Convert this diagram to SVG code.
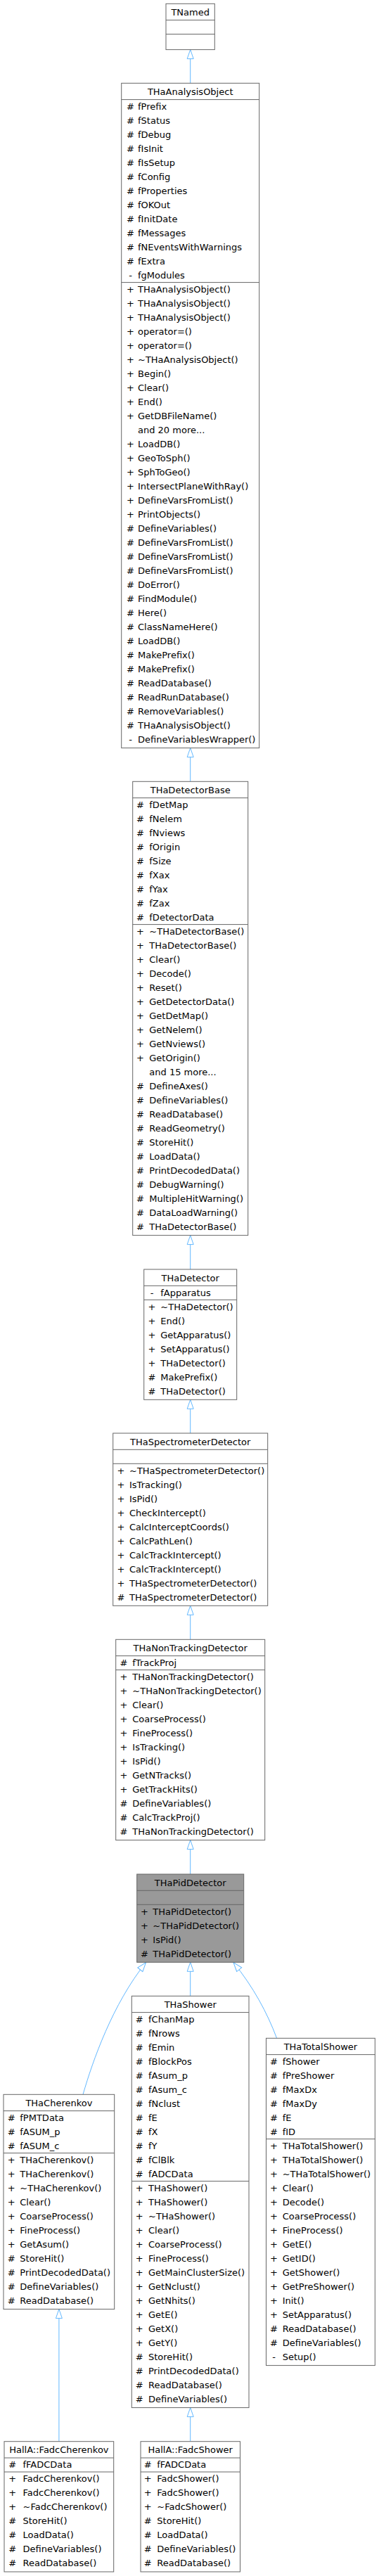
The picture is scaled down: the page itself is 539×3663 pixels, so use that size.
<svg xmlns="http://www.w3.org/2000/svg" width="539" height="3663" viewBox="0 0 539 3663">
<style>
.b{fill:#fff;stroke:#666;stroke-width:1}
.g{fill:#999;stroke:#666;stroke-width:1}
.s{stroke:#666;stroke-width:1;fill:none}
text{font-family:"DejaVu Sans","Liberation Sans",sans-serif;font-size:13px;fill:#000}
.t,.c{text-anchor:middle}
.e{fill:none;stroke:#63b8ff;stroke-width:1;marker-end:url(#a)}
</style>
<defs>
<marker id="a" viewBox="0 0 15 11" refX="14" refY="5.5" markerWidth="15" markerHeight="11" markerUnits="userSpaceOnUse" orient="auto">
<path d="M1,1 L14,5.5 L1,10 Z" fill="#fff" stroke="#63b8ff" stroke-width="1"/>
</marker>
</defs>
<rect width="539" height="3663" fill="#fff"/>
<g id="connectors">
<path class="e" d="M270.7,118.3 V70.6"/>
<path class="e" d="M270.7,1111.3 V1063.6"/>
<path class="e" d="M270.7,1805 V1756.6"/>
<path class="e" d="M270.7,2038 V1990.3"/>
<path class="e" d="M270.7,2331.3 V2283.3"/>
<path class="e" d="M270.7,2665 V2616.6"/>
<path class="e" d="M118,2978.3 C132,2930 160,2850 207.5,2790.6"/>
<path class="e" d="M270.7,2838.3 V2790.3"/>
<path class="e" d="M393.6,2898.3 C380,2862 360,2825 332,2790.6"/>
<path class="e" d="M83.9,3471.7 V3283.6"/>
<path class="e" d="M270.7,3471.7 V3423.6"/>
</g>
<g id="TNamed">
<rect class="b" x="236" y="5.3" width="69.3" height="65.3"/>
<path class="s" d="M236,28.6 H305.3 M236,48.6 H305.3"/>
<text class="t" x="270.7" y="22">TNamed</text>
</g>
<g id="THaAnalysisObject">
<rect class="b" x="172.7" y="118.3" width="196" height="945.3"/>
<path class="s" d="M172.7,141.6 H368.7 M172.7,401.6 H368.7"/>
<text class="t" x="270.7" y="135">THaAnalysisObject</text>
<text class="c"><tspan x="185.5" y="155.8">#</tspan><tspan x="185.5" y="175.8">#</tspan><tspan x="185.5" y="195.8">#</tspan><tspan x="185.5" y="215.8">#</tspan><tspan x="185.5" y="235.8">#</tspan><tspan x="185.5" y="255.8">#</tspan><tspan x="185.5" y="275.8">#</tspan><tspan x="185.5" y="295.8">#</tspan><tspan x="185.5" y="315.8">#</tspan><tspan x="185.5" y="335.8">#</tspan><tspan x="185.5" y="355.8">#</tspan><tspan x="185.5" y="375.8">#</tspan><tspan x="185.5" y="395.8">-</tspan></text>
<text><tspan x="196" y="155.8">fPrefix</tspan><tspan x="196" y="175.8">fStatus</tspan><tspan x="196" y="195.8">fDebug</tspan><tspan x="196" y="215.8">fIsInit</tspan><tspan x="196" y="235.8">fIsSetup</tspan><tspan x="196" y="255.8">fConfig</tspan><tspan x="196" y="275.8">fProperties</tspan><tspan x="196" y="295.8">fOKOut</tspan><tspan x="196" y="315.8">fInitDate</tspan><tspan x="196" y="335.8">fMessages</tspan><tspan x="196" y="355.8">fNEventsWithWarnings</tspan><tspan x="196" y="375.8">fExtra</tspan><tspan x="196" y="395.8">fgModules</tspan></text>
<text class="c"><tspan x="185.5" y="415.8">+</tspan><tspan x="185.5" y="435.8">+</tspan><tspan x="185.5" y="455.8">+</tspan><tspan x="185.5" y="475.8">+</tspan><tspan x="185.5" y="495.8">+</tspan><tspan x="185.5" y="515.8">+</tspan><tspan x="185.5" y="535.8">+</tspan><tspan x="185.5" y="555.8">+</tspan><tspan x="185.5" y="575.8">+</tspan><tspan x="185.5" y="595.8">+</tspan><tspan x="185.5" y="635.8">+</tspan><tspan x="185.5" y="655.8">+</tspan><tspan x="185.5" y="675.8">+</tspan><tspan x="185.5" y="695.8">+</tspan><tspan x="185.5" y="715.8">+</tspan><tspan x="185.5" y="735.8">+</tspan><tspan x="185.5" y="755.8">#</tspan><tspan x="185.5" y="775.8">#</tspan><tspan x="185.5" y="795.8">#</tspan><tspan x="185.5" y="815.8">#</tspan><tspan x="185.5" y="835.8">#</tspan><tspan x="185.5" y="855.8">#</tspan><tspan x="185.5" y="875.8">#</tspan><tspan x="185.5" y="895.8">#</tspan><tspan x="185.5" y="915.8">#</tspan><tspan x="185.5" y="935.8">#</tspan><tspan x="185.5" y="955.8">#</tspan><tspan x="185.5" y="975.8">#</tspan><tspan x="185.5" y="995.8">#</tspan><tspan x="185.5" y="1015.8">#</tspan><tspan x="185.5" y="1035.8">#</tspan><tspan x="185.5" y="1055.8">-</tspan></text>
<text><tspan x="196" y="415.8">THaAnalysisObject()</tspan><tspan x="196" y="435.8">THaAnalysisObject()</tspan><tspan x="196" y="455.8">THaAnalysisObject()</tspan><tspan x="196" y="475.8">operator=()</tspan><tspan x="196" y="495.8">operator=()</tspan><tspan x="196" y="515.8">~THaAnalysisObject()</tspan><tspan x="196" y="535.8">Begin()</tspan><tspan x="196" y="555.8">Clear()</tspan><tspan x="196" y="575.8">End()</tspan><tspan x="196" y="595.8">GetDBFileName()</tspan><tspan x="196" y="615.8">and 20 more...</tspan><tspan x="196" y="635.8">LoadDB()</tspan><tspan x="196" y="655.8">GeoToSph()</tspan><tspan x="196" y="675.8">SphToGeo()</tspan><tspan x="196" y="695.8">IntersectPlaneWithRay()</tspan><tspan x="196" y="715.8">DefineVarsFromList()</tspan><tspan x="196" y="735.8">PrintObjects()</tspan><tspan x="196" y="755.8">DefineVariables()</tspan><tspan x="196" y="775.8">DefineVarsFromList()</tspan><tspan x="196" y="795.8">DefineVarsFromList()</tspan><tspan x="196" y="815.8">DefineVarsFromList()</tspan><tspan x="196" y="835.8">DoError()</tspan><tspan x="196" y="855.8">FindModule()</tspan><tspan x="196" y="875.8">Here()</tspan><tspan x="196" y="895.8">ClassNameHere()</tspan><tspan x="196" y="915.8">LoadDB()</tspan><tspan x="196" y="935.8">MakePrefix()</tspan><tspan x="196" y="955.8">MakePrefix()</tspan><tspan x="196" y="975.8">ReadDatabase()</tspan><tspan x="196" y="995.8">ReadRunDatabase()</tspan><tspan x="196" y="1015.8">RemoveVariables()</tspan><tspan x="196" y="1035.8">THaAnalysisObject()</tspan><tspan x="196" y="1055.8">DefineVariablesWrapper()</tspan></text>
</g>
<g id="THaDetectorBase">
<rect class="b" x="188.7" y="1111.3" width="164" height="645.3"/>
<path class="s" d="M188.7,1134.6 H352.7 M188.7,1314.6 H352.7"/>
<text class="t" x="270.7" y="1128">THaDetectorBase</text>
<text class="c"><tspan x="199.5" y="1148.8">#</tspan><tspan x="199.5" y="1168.8">#</tspan><tspan x="199.5" y="1188.8">#</tspan><tspan x="199.5" y="1208.8">#</tspan><tspan x="199.5" y="1228.8">#</tspan><tspan x="199.5" y="1248.8">#</tspan><tspan x="199.5" y="1268.8">#</tspan><tspan x="199.5" y="1288.8">#</tspan><tspan x="199.5" y="1308.8">#</tspan></text>
<text><tspan x="212.3" y="1148.8">fDetMap</tspan><tspan x="212.3" y="1168.8">fNelem</tspan><tspan x="212.3" y="1188.8">fNviews</tspan><tspan x="212.3" y="1208.8">fOrigin</tspan><tspan x="212.3" y="1228.8">fSize</tspan><tspan x="212.3" y="1248.8">fXax</tspan><tspan x="212.3" y="1268.8">fYax</tspan><tspan x="212.3" y="1288.8">fZax</tspan><tspan x="212.3" y="1308.8">fDetectorData</tspan></text>
<text class="c"><tspan x="199.5" y="1328.8">+</tspan><tspan x="199.5" y="1348.8">+</tspan><tspan x="199.5" y="1368.8">+</tspan><tspan x="199.5" y="1388.8">+</tspan><tspan x="199.5" y="1408.8">+</tspan><tspan x="199.5" y="1428.8">+</tspan><tspan x="199.5" y="1448.8">+</tspan><tspan x="199.5" y="1468.8">+</tspan><tspan x="199.5" y="1488.8">+</tspan><tspan x="199.5" y="1508.8">+</tspan><tspan x="199.5" y="1548.8">#</tspan><tspan x="199.5" y="1568.8">#</tspan><tspan x="199.5" y="1588.8">#</tspan><tspan x="199.5" y="1608.8">#</tspan><tspan x="199.5" y="1628.8">#</tspan><tspan x="199.5" y="1648.8">#</tspan><tspan x="199.5" y="1668.8">#</tspan><tspan x="199.5" y="1688.8">#</tspan><tspan x="199.5" y="1708.8">#</tspan><tspan x="199.5" y="1728.8">#</tspan><tspan x="199.5" y="1748.8">#</tspan></text>
<text><tspan x="212.3" y="1328.8">~THaDetectorBase()</tspan><tspan x="212.3" y="1348.8">THaDetectorBase()</tspan><tspan x="212.3" y="1368.8">Clear()</tspan><tspan x="212.3" y="1388.8">Decode()</tspan><tspan x="212.3" y="1408.8">Reset()</tspan><tspan x="212.3" y="1428.8">GetDetectorData()</tspan><tspan x="212.3" y="1448.8">GetDetMap()</tspan><tspan x="212.3" y="1468.8">GetNelem()</tspan><tspan x="212.3" y="1488.8">GetNviews()</tspan><tspan x="212.3" y="1508.8">GetOrigin()</tspan><tspan x="212.3" y="1528.8">and 15 more...</tspan><tspan x="212.3" y="1548.8">DefineAxes()</tspan><tspan x="212.3" y="1568.8">DefineVariables()</tspan><tspan x="212.3" y="1588.8">ReadDatabase()</tspan><tspan x="212.3" y="1608.8">ReadGeometry()</tspan><tspan x="212.3" y="1628.8">StoreHit()</tspan><tspan x="212.3" y="1648.8">LoadData()</tspan><tspan x="212.3" y="1668.8">PrintDecodedData()</tspan><tspan x="212.3" y="1688.8">DebugWarning()</tspan><tspan x="212.3" y="1708.8">MultipleHitWarning()</tspan><tspan x="212.3" y="1728.8">DataLoadWarning()</tspan><tspan x="212.3" y="1748.8">THaDetectorBase()</tspan></text>
</g>
<g id="THaDetector">
<rect class="b" x="204.7" y="1805" width="132" height="185.3"/>
<path class="s" d="M204.7,1828.3 H336.7 M204.7,1848.3 H336.7"/>
<text class="t" x="270.7" y="1821.7">THaDetector</text>
<text class="c"><tspan x="216" y="1842.5">-</tspan><tspan x="216" y="1862.5">+</tspan><tspan x="216" y="1882.5">+</tspan><tspan x="216" y="1902.5">+</tspan><tspan x="216" y="1922.5">+</tspan><tspan x="216" y="1942.5">+</tspan><tspan x="216" y="1962.5">#</tspan><tspan x="216" y="1982.5">#</tspan></text>
<text><tspan x="228.3" y="1842.5">fApparatus</tspan><tspan x="228.3" y="1862.5">~THaDetector()</tspan><tspan x="228.3" y="1882.5">End()</tspan><tspan x="228.3" y="1902.5">GetApparatus()</tspan><tspan x="228.3" y="1922.5">SetApparatus()</tspan><tspan x="228.3" y="1942.5">THaDetector()</tspan><tspan x="228.3" y="1962.5">MakePrefix()</tspan><tspan x="228.3" y="1982.5">THaDetector()</tspan></text>
</g>
<g id="THaSpectrometerDetector">
<rect class="b" x="160.7" y="2038" width="220" height="245.3"/>
<path class="s" d="M160.7,2061.3 H380.7 M160.7,2081.3 H380.7"/>
<text class="t" x="270.7" y="2054.7">THaSpectrometerDetector</text>
<text class="c"><tspan x="172" y="2095.5">+</tspan><tspan x="172" y="2115.5">+</tspan><tspan x="172" y="2135.5">+</tspan><tspan x="172" y="2155.5">+</tspan><tspan x="172" y="2175.5">+</tspan><tspan x="172" y="2195.5">+</tspan><tspan x="172" y="2215.5">+</tspan><tspan x="172" y="2235.5">+</tspan><tspan x="172" y="2255.5">+</tspan><tspan x="172" y="2275.5">#</tspan></text>
<text><tspan x="184" y="2095.5">~THaSpectrometerDetector()</tspan><tspan x="184" y="2115.5">IsTracking()</tspan><tspan x="184" y="2135.5">IsPid()</tspan><tspan x="184" y="2155.5">CheckIntercept()</tspan><tspan x="184" y="2175.5">CalcInterceptCoords()</tspan><tspan x="184" y="2195.5">CalcPathLen()</tspan><tspan x="184" y="2215.5">CalcTrackIntercept()</tspan><tspan x="184" y="2235.5">CalcTrackIntercept()</tspan><tspan x="184" y="2255.5">THaSpectrometerDetector()</tspan><tspan x="184" y="2275.5">THaSpectrometerDetector()</tspan></text>
</g>
<g id="THaNonTrackingDetector">
<rect class="b" x="164.7" y="2331.3" width="212" height="285.3"/>
<path class="s" d="M164.7,2354.6 H376.7 M164.7,2374.6 H376.7"/>
<text class="t" x="270.7" y="2348">THaNonTrackingDetector</text>
<text class="c"><tspan x="176" y="2368.8">#</tspan><tspan x="176" y="2388.8">+</tspan><tspan x="176" y="2408.8">+</tspan><tspan x="176" y="2428.8">+</tspan><tspan x="176" y="2448.8">+</tspan><tspan x="176" y="2468.8">+</tspan><tspan x="176" y="2488.8">+</tspan><tspan x="176" y="2508.8">+</tspan><tspan x="176" y="2528.8">+</tspan><tspan x="176" y="2548.8">+</tspan><tspan x="176" y="2568.8">#</tspan><tspan x="176" y="2588.8">#</tspan><tspan x="176" y="2608.8">#</tspan></text>
<text><tspan x="188.3" y="2368.8">fTrackProj</tspan><tspan x="188.3" y="2388.8">THaNonTrackingDetector()</tspan><tspan x="188.3" y="2408.8">~THaNonTrackingDetector()</tspan><tspan x="188.3" y="2428.8">Clear()</tspan><tspan x="188.3" y="2448.8">CoarseProcess()</tspan><tspan x="188.3" y="2468.8">FineProcess()</tspan><tspan x="188.3" y="2488.8">IsTracking()</tspan><tspan x="188.3" y="2508.8">IsPid()</tspan><tspan x="188.3" y="2528.8">GetNTracks()</tspan><tspan x="188.3" y="2548.8">GetTrackHits()</tspan><tspan x="188.3" y="2568.8">DefineVariables()</tspan><tspan x="188.3" y="2588.8">CalcTrackProj()</tspan><tspan x="188.3" y="2608.8">THaNonTrackingDetector()</tspan></text>
</g>
<g id="THaPidDetector">
<rect class="g" x="194.7" y="2665" width="152" height="125.3"/>
<path class="s" d="M194.7,2688.3 H346.7 M194.7,2708.3 H346.7"/>
<text class="t" x="270.7" y="2681.7">THaPidDetector</text>
<text class="c"><tspan x="205.5" y="2722.5">+</tspan><tspan x="205.5" y="2742.5">+</tspan><tspan x="205.5" y="2762.5">+</tspan><tspan x="205.5" y="2782.5">#</tspan></text>
<text><tspan x="217.3" y="2722.5">THaPidDetector()</tspan><tspan x="217.3" y="2742.5">~THaPidDetector()</tspan><tspan x="217.3" y="2762.5">IsPid()</tspan><tspan x="217.3" y="2782.5">THaPidDetector()</tspan></text>
</g>
<g id="THaCherenkov">
<rect class="b" x="5" y="2978.3" width="157.7" height="305.3"/>
<path class="s" d="M5,3001.6 H162.7 M5,3061.6 H162.7"/>
<text class="t" x="83.9" y="2995">THaCherenkov</text>
<text class="c"><tspan x="16.2" y="3015.8">#</tspan><tspan x="16.2" y="3035.8">#</tspan><tspan x="16.2" y="3055.8">#</tspan><tspan x="16.2" y="3075.8">+</tspan><tspan x="16.2" y="3095.8">+</tspan><tspan x="16.2" y="3115.8">+</tspan><tspan x="16.2" y="3135.8">+</tspan><tspan x="16.2" y="3155.8">+</tspan><tspan x="16.2" y="3175.8">+</tspan><tspan x="16.2" y="3195.8">+</tspan><tspan x="16.2" y="3215.8">#</tspan><tspan x="16.2" y="3235.8">#</tspan><tspan x="16.2" y="3255.8">#</tspan><tspan x="16.2" y="3275.8">#</tspan></text>
<text><tspan x="28.3" y="3015.8">fPMTData</tspan><tspan x="28.3" y="3035.8">fASUM_p</tspan><tspan x="28.3" y="3055.8">fASUM_c</tspan><tspan x="28.3" y="3075.8">THaCherenkov()</tspan><tspan x="28.3" y="3095.8">THaCherenkov()</tspan><tspan x="28.3" y="3115.8">~THaCherenkov()</tspan><tspan x="28.3" y="3135.8">Clear()</tspan><tspan x="28.3" y="3155.8">CoarseProcess()</tspan><tspan x="28.3" y="3175.8">FineProcess()</tspan><tspan x="28.3" y="3195.8">GetAsum()</tspan><tspan x="28.3" y="3215.8">StoreHit()</tspan><tspan x="28.3" y="3235.8">PrintDecodedData()</tspan><tspan x="28.3" y="3255.8">DefineVariables()</tspan><tspan x="28.3" y="3275.8">ReadDatabase()</tspan></text>
</g>
<g id="THaShower">
<rect class="b" x="187.3" y="2838.3" width="166.7" height="585.3"/>
<path class="s" d="M187.3,2861.6 H354 M187.3,3101.6 H354"/>
<text class="t" x="270.7" y="2855">THaShower</text>
<text class="c"><tspan x="198.3" y="2875.8">#</tspan><tspan x="198.3" y="2895.8">#</tspan><tspan x="198.3" y="2915.8">#</tspan><tspan x="198.3" y="2935.8">#</tspan><tspan x="198.3" y="2955.8">#</tspan><tspan x="198.3" y="2975.8">#</tspan><tspan x="198.3" y="2995.8">#</tspan><tspan x="198.3" y="3015.8">#</tspan><tspan x="198.3" y="3035.8">#</tspan><tspan x="198.3" y="3055.8">#</tspan><tspan x="198.3" y="3075.8">#</tspan><tspan x="198.3" y="3095.8">#</tspan><tspan x="198.3" y="3115.8">+</tspan><tspan x="198.3" y="3135.8">+</tspan><tspan x="198.3" y="3155.8">+</tspan><tspan x="198.3" y="3175.8">+</tspan><tspan x="198.3" y="3195.8">+</tspan><tspan x="198.3" y="3215.8">+</tspan><tspan x="198.3" y="3235.8">+</tspan><tspan x="198.3" y="3255.8">+</tspan><tspan x="198.3" y="3275.8">+</tspan><tspan x="198.3" y="3295.8">+</tspan><tspan x="198.3" y="3315.8">+</tspan><tspan x="198.3" y="3335.8">+</tspan><tspan x="198.3" y="3355.8">#</tspan><tspan x="198.3" y="3375.8">#</tspan><tspan x="198.3" y="3395.8">#</tspan><tspan x="198.3" y="3415.8">#</tspan></text>
<text><tspan x="211" y="2875.8">fChanMap</tspan><tspan x="211" y="2895.8">fNrows</tspan><tspan x="211" y="2915.8">fEmin</tspan><tspan x="211" y="2935.8">fBlockPos</tspan><tspan x="211" y="2955.8">fAsum_p</tspan><tspan x="211" y="2975.8">fAsum_c</tspan><tspan x="211" y="2995.8">fNclust</tspan><tspan x="211" y="3015.8">fE</tspan><tspan x="211" y="3035.8">fX</tspan><tspan x="211" y="3055.8">fY</tspan><tspan x="211" y="3075.8">fClBlk</tspan><tspan x="211" y="3095.8">fADCData</tspan><tspan x="211" y="3115.8">THaShower()</tspan><tspan x="211" y="3135.8">THaShower()</tspan><tspan x="211" y="3155.8">~THaShower()</tspan><tspan x="211" y="3175.8">Clear()</tspan><tspan x="211" y="3195.8">CoarseProcess()</tspan><tspan x="211" y="3215.8">FineProcess()</tspan><tspan x="211" y="3235.8">GetMainClusterSize()</tspan><tspan x="211" y="3255.8">GetNclust()</tspan><tspan x="211" y="3275.8">GetNhits()</tspan><tspan x="211" y="3295.8">GetE()</tspan><tspan x="211" y="3315.8">GetX()</tspan><tspan x="211" y="3335.8">GetY()</tspan><tspan x="211" y="3355.8">StoreHit()</tspan><tspan x="211" y="3375.8">PrintDecodedData()</tspan><tspan x="211" y="3395.8">ReadDatabase()</tspan><tspan x="211" y="3415.8">DefineVariables()</tspan></text>
</g>
<g id="THaTotalShower">
<rect class="b" x="378.5" y="2898.3" width="154.8" height="465.3"/>
<path class="s" d="M378.5,2921.6 H533.3 M378.5,3041.6 H533.3"/>
<text class="t" x="455.9" y="2915">THaTotalShower</text>
<text class="c"><tspan x="389.5" y="2935.8">#</tspan><tspan x="389.5" y="2955.8">#</tspan><tspan x="389.5" y="2975.8">#</tspan><tspan x="389.5" y="2995.8">#</tspan><tspan x="389.5" y="3015.8">#</tspan><tspan x="389.5" y="3035.8">#</tspan><tspan x="389.5" y="3055.8">+</tspan><tspan x="389.5" y="3075.8">+</tspan><tspan x="389.5" y="3095.8">+</tspan><tspan x="389.5" y="3115.8">+</tspan><tspan x="389.5" y="3135.8">+</tspan><tspan x="389.5" y="3155.8">+</tspan><tspan x="389.5" y="3175.8">+</tspan><tspan x="389.5" y="3195.8">+</tspan><tspan x="389.5" y="3215.8">+</tspan><tspan x="389.5" y="3235.8">+</tspan><tspan x="389.5" y="3255.8">+</tspan><tspan x="389.5" y="3275.8">+</tspan><tspan x="389.5" y="3295.8">+</tspan><tspan x="389.5" y="3315.8">#</tspan><tspan x="389.5" y="3335.8">#</tspan><tspan x="389.5" y="3355.8">-</tspan></text>
<text><tspan x="401.7" y="2935.8">fShower</tspan><tspan x="401.7" y="2955.8">fPreShower</tspan><tspan x="401.7" y="2975.8">fMaxDx</tspan><tspan x="401.7" y="2995.8">fMaxDy</tspan><tspan x="401.7" y="3015.8">fE</tspan><tspan x="401.7" y="3035.8">fID</tspan><tspan x="401.7" y="3055.8">THaTotalShower()</tspan><tspan x="401.7" y="3075.8">THaTotalShower()</tspan><tspan x="401.7" y="3095.8">~THaTotalShower()</tspan><tspan x="401.7" y="3115.8">Clear()</tspan><tspan x="401.7" y="3135.8">Decode()</tspan><tspan x="401.7" y="3155.8">CoarseProcess()</tspan><tspan x="401.7" y="3175.8">FineProcess()</tspan><tspan x="401.7" y="3195.8">GetE()</tspan><tspan x="401.7" y="3215.8">GetID()</tspan><tspan x="401.7" y="3235.8">GetShower()</tspan><tspan x="401.7" y="3255.8">GetPreShower()</tspan><tspan x="401.7" y="3275.8">Init()</tspan><tspan x="401.7" y="3295.8">SetApparatus()</tspan><tspan x="401.7" y="3315.8">ReadDatabase()</tspan><tspan x="401.7" y="3335.8">DefineVariables()</tspan><tspan x="401.7" y="3355.8">Setup()</tspan></text>
</g>
<g id="FadcCherenkov">
<rect class="b" x="6" y="3471.7" width="155.7" height="185.3"/>
<path class="s" d="M6,3495 H161.7 M6,3515 H161.7"/>
<text class="t" x="83.9" y="3488.4">HallA::FadcCherenkov</text>
<text class="c"><tspan x="17.7" y="3509.2">#</tspan><tspan x="17.7" y="3529.2">+</tspan><tspan x="17.7" y="3549.2">+</tspan><tspan x="17.7" y="3569.2">+</tspan><tspan x="17.7" y="3589.2">#</tspan><tspan x="17.7" y="3609.2">#</tspan><tspan x="17.7" y="3629.2">#</tspan><tspan x="17.7" y="3649.2">#</tspan></text>
<text><tspan x="32.5" y="3509.2">fFADCData</tspan><tspan x="32.5" y="3529.2">FadcCherenkov()</tspan><tspan x="32.5" y="3549.2">FadcCherenkov()</tspan><tspan x="32.5" y="3569.2">~FadcCherenkov()</tspan><tspan x="32.5" y="3589.2">StoreHit()</tspan><tspan x="32.5" y="3609.2">LoadData()</tspan><tspan x="32.5" y="3629.2">DefineVariables()</tspan><tspan x="32.5" y="3649.2">ReadDatabase()</tspan></text>
</g>
<g id="FadcShower">
<rect class="b" x="200" y="3471.7" width="141.5" height="185.3"/>
<path class="s" d="M200,3495 H341.5 M200,3515 H341.5"/>
<text class="t" x="270.7" y="3488.4">HallA::FadcShower</text>
<text class="c"><tspan x="210.2" y="3509.2">#</tspan><tspan x="210.2" y="3529.2">+</tspan><tspan x="210.2" y="3549.2">+</tspan><tspan x="210.2" y="3569.2">+</tspan><tspan x="210.2" y="3589.2">#</tspan><tspan x="210.2" y="3609.2">#</tspan><tspan x="210.2" y="3629.2">#</tspan><tspan x="210.2" y="3649.2">#</tspan></text>
<text><tspan x="223.3" y="3509.2">fFADCData</tspan><tspan x="223.3" y="3529.2">FadcShower()</tspan><tspan x="223.3" y="3549.2">FadcShower()</tspan><tspan x="223.3" y="3569.2">~FadcShower()</tspan><tspan x="223.3" y="3589.2">StoreHit()</tspan><tspan x="223.3" y="3609.2">LoadData()</tspan><tspan x="223.3" y="3629.2">DefineVariables()</tspan><tspan x="223.3" y="3649.2">ReadDatabase()</tspan></text>
</g>
</svg>
